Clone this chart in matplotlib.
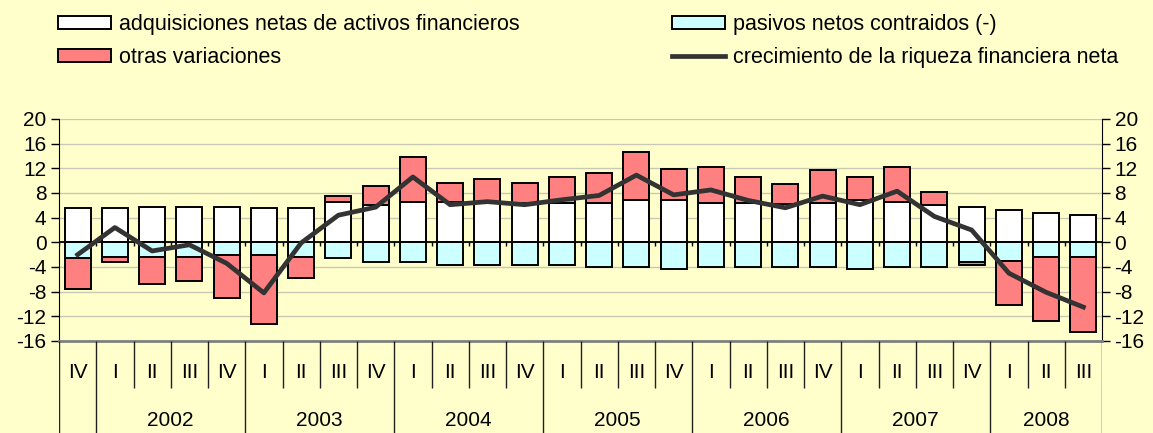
import matplotlib.pyplot as plt
import numpy as np
from matplotlib.patches import Patch
from matplotlib.lines import Line2D

plt.rcParams['font.family'] = ['Liberation Sans', 'DejaVu Sans']

# Datos (2001 IV - 2008 III)
trimestres = ["IV", "I", "II", "III", "IV", "I", "II", "III", "IV", "I", "II", "III", "IV",
              "I", "II", "III", "IV", "I", "II", "III", "IV", "I", "II", "III", "IV",
              "I", "II", "III"]
anios = ["2002", "2003", "2004", "2005", "2006", "2007", "2008"]
activos = [5.5, 5.5, 5.7, 5.7, 5.7, 5.5, 5.5, 6.5, 6.1, 6.5, 6.6, 6.5, 6.4, 6.4,
           6.4, 6.8, 6.8, 6.4, 6.4, 6.2, 6.4, 6.8, 6.5, 6.1, 5.7, 5.2, 4.8, 4.4]
pasivos = [-2.6, -2.3, -2.3, -2.3, -2.0, -2.0, -2.3, -2.6, -3.2, -3.2, -3.6, -3.6, -3.6, -3.6,
           -4.0, -4.0, -4.3, -4.0, -4.0, -4.0, -4.0, -4.3, -4.0, -4.0, -3.2, -3.0, -2.3, -2.3]
otras = [-4.9, -0.9, -4.5, -3.9, -7.1, -11.2, -3.5, 1.0, 3.0, 7.4, 3.1, 3.8, 3.3, 4.2,
         4.9, 7.8, 5.1, 5.8, 4.2, 3.2, 5.3, 3.8, 5.7, 2.0, -0.4, -7.1, -10.4, -12.3]
crecimiento = [-2.0, 2.4, -1.4, -0.4, -3.4, -8.2, -0.1, 4.4, 5.7, 10.6, 6.1, 6.6, 6.1, 6.9,
               7.6, 10.9, 7.7, 8.5, 6.8, 5.6, 7.5, 6.1, 8.3, 4.2, 2.0, -5.0, -8.1, -10.5]

W, H = 1153, 433
fondo = '#FFFFCC'
fs = 15
fig = plt.figure(figsize=(W / 100, H / 100), dpi=100, facecolor=fondo)

x0, x1 = 59, 1102
ytop, ybot = 119, 341
ax = fig.add_axes([x0 / W, (H - ybot) / H, (x1 - x0) / W, (ybot - ytop) / H])
ax.set_facecolor(fondo)

n = len(activos)
x = np.arange(n)
otras_arr = np.array(otras)
base_otras = np.where(otras_arr >= 0, activos, pasivos)

ancho = 0.70
ax.bar(x, activos, ancho, color='white', edgecolor='black', linewidth=1.4, zorder=3)
ax.bar(x, pasivos, ancho, color='#CCFFFF', edgecolor='black', linewidth=1.4, zorder=3)
ax.bar(x, otras_arr, ancho, bottom=base_otras, color='#FF8080', edgecolor='black',
       linewidth=1.4, zorder=3)
ax.plot(x, crecimiento, color='#333333', linewidth=3.4, zorder=5)

ax.set_xlim(-0.5, n - 0.5)
ax.set_ylim(-16, 20)
ticks = np.arange(-16, 21, 4)
ax.set_yticks(ticks)
ax.set_yticklabels([str(t) for t in ticks], fontsize=fs)
ax.tick_params(axis='y', direction='out', length=6, width=1, pad=3,
               left=True, right=True, labelleft=True, labelright=True)
ax.set_xticks([])
for t in ticks:
    ax.axhline(t, color='#C8C8B4', linewidth=1, zorder=1)

# linea del cero con marcas
ax.axhline(0, color='black', linewidth=1.3, zorder=4)
ax.vlines(np.arange(n + 1) - 0.5, -0.65, 0, color='black', linewidth=1, zorder=4)

ax.spines['top'].set_visible(False)
ax.spines['left'].set_color('black')
ax.spines['right'].set_color('black')
ax.spines['bottom'].set_color('#808080')
ax.spines['bottom'].set_linewidth(2)

# tabla de categorias
axc = fig.add_axes([x0 / W, 0, (x1 - x0) / W, (H - ybot) / H])
axc.set_xlim(-0.5, n - 0.5)
alto = H - ybot
axc.set_ylim(0, alto)
axc.axis('off')
limites_anio = [-0.5, 0.5, 4.5, 8.5, 12.5, 16.5, 20.5, 24.5, n - 0.5]
for b in np.arange(n + 1) - 0.5:
    if b in limites_anio:
        axc.vlines(b, 0, alto, color='#202020', linewidth=1)
    else:
        axc.vlines(b, alto - 47, alto, color='#202020', linewidth=1)
for i, q in enumerate(trimestres):
    axc.text(i, alto - 31, q, ha='center', va='center', fontsize=fs)
centros = [2.5, 6.5, 10.5, 14.5, 18.5, 22.5, 26]
for c, a in zip(centros, anios):
    axc.text(c, H - 420, a, ha='center', va='center', fontsize=fs)

# leyenda
h_activos = Patch(facecolor='white', edgecolor='black', linewidth=1.4,
                  label='adquisiciones netas de activos financieros')
h_otras = Patch(facecolor='#FF8080', edgecolor='black', linewidth=1.4, label='otras variaciones')
h_pasivos = Patch(facecolor='#CCFFFF', edgecolor='black', linewidth=1.4,
                  label='pasivos netos contraidos (-)')
h_crec = Line2D([], [], color='#333333', linewidth=3.4,
                label='crecimiento de la riqueza financiera neta')

opts = dict(loc='upper left', frameon=False, fontsize=15.5, handlelength=2.45,
            handleheight=0.55, handletextpad=0.4, labelspacing=0.58,
            borderpad=0, borderaxespad=0)
leg1 = fig.legend(handles=[h_activos, h_otras], bbox_to_anchor=(58 / W, 1 - 14 / H), **opts)
leg2 = fig.legend(handles=[h_pasivos, h_crec], bbox_to_anchor=(672 / W, 1 - 14 / H), **opts)

fig.savefig('out.png', dpi=100, facecolor=fondo)
